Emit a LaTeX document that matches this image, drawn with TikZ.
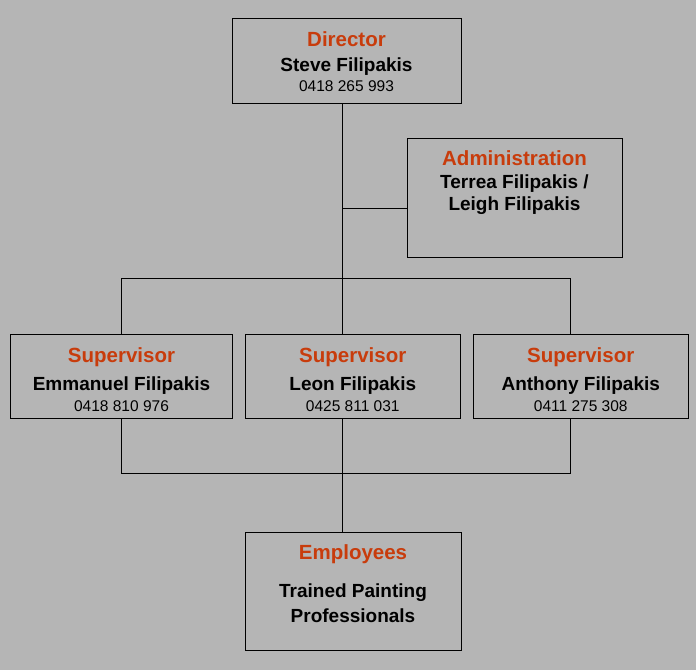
\documentclass[tikz,border=0pt]{standalone}
\usepackage{fontspec}
\setmainfont{Liberation Sans}
\usepackage{xcolor}
\usepackage{tikz}
\definecolor{bggray}{RGB}{181,181,181}
\definecolor{rolered}{RGB}{200,60,12}
\tikzset{
	box/.style={draw=black, line width=1pt, inner sep=0pt},
	role/.style={anchor=base, text=rolered, font=\fontsize{20.5}{24}\selectfont\bfseries},
	person/.style={anchor=base, font=\fontsize{19}{23}\selectfont\bfseries},
	phone/.style={anchor=base, font=\fontsize{15.5}{18}\selectfont},
	link/.style={draw=black, line width=1pt}
}

\begin{document}
\begin{tikzpicture}[x=1pt, y=-1pt]

\fill[bggray] (0,0) rectangle (696,670);
\useasboundingbox (0,0) rectangle (696,670);

% director
\node[box, minimum width=229pt, minimum height=85pt] (dir) at (346.5,60.5) {};
\node[role] (dirR) at (346.5,46) {Director};
\node[person] (dirN) at (346.5,71) {Steve Filipakis};
\node[phone] (dirP) at (346.5,91) {0418 265 993};

% administration
\node[box, minimum width=215pt, minimum height=119pt] (adm) at (514.5,197.5) {};
\node[role] (admR) at (514.5,165) {Administration};
\node[person] (admN1) at (514.5,188) {Terrea Filipakis /};
\node[person] (admN2) at (514.5,210) {Leigh Filipakis};

% supervisors
\foreach \n/\x/\w/\who/\tel in {sup1/121.5/222/Emmanuel Filipakis/0418 810 976,
	sup2/352.75/214.5/Leon Filipakis/0425 811 031,
	sup3/580.75/214.5/Anthony Filipakis/0411 275 308}
{
\node[box, minimum width=\w pt, minimum height=84pt] (\n) at (\x,376) {};
\node[role] (\n R) at (\x,362) {Supervisor};
\node[person] (\n N) at (\x,390) {\who};
\node[phone] (\n P) at (\x,411) {\tel};
}

% employees
\node[box, minimum width=216pt, minimum height=118pt] (emp) at (353,591) {};
\node[role] (empR) at (353,559) {Employees};
\node[person] (empN1) at (353,597) {Trained Painting};
\node[person] (empN2) at (353,622) {Professionals};

% connectors
\coordinate (ca) at (342,208);
\coordinate (ct) at (342,278);
\coordinate (lt) at (121,278);
\coordinate (rt) at (570,278);
\coordinate (cb) at (342,473);
\coordinate (lb) at (121,473);
\coordinate (rb) at (570,473);

\draw[link] (dir.south -| ct) -- (sup2.north -| ct);
\draw[link] (ca) -- (adm.west |- ca);
\draw[link] (sup1.north -| lt) -- (lt) -- (rt) -- (sup3.north -| rt);
\draw[link] (sup1.south -| lb) -- (lb) -- (rb) -- (sup3.south -| rb);
\draw[link] (sup2.south -| cb) -- (emp.north -| cb);

\end{tikzpicture}
\end{document}
